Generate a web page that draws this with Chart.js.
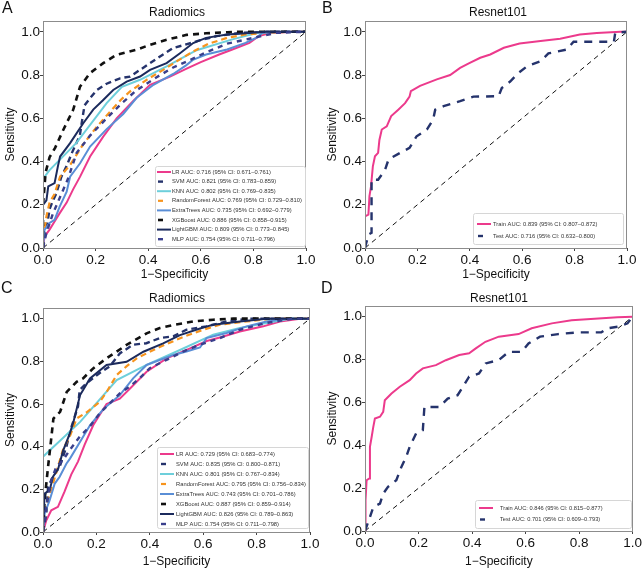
<!DOCTYPE html>
<html lang="en">
<head>
<meta charset="UTF-8">
<title>ROC curves - Radiomics vs Resnet101</title>
<script src="https://cdn.jsdelivr.net/npm/chart.js"></script>
<style>
  body { margin: 0; background: #fff; font-family: "Liberation Sans", Arial, sans-serif; }
  #fig { position: relative; width: 643px; height: 569px; overflow: hidden; }
  canvas { position: absolute; }
  .lbl { position: absolute; color: #111; white-space: nowrap; line-height: 1; }
  .letter { font-size: 16px; }
  .ttl { font-size: 12px; transform: translateX(-50%); }
</style>
</head>
<body>
<div id="fig">
  <canvas id="chartA"></canvas>
  <canvas id="chartB"></canvas>
  <canvas id="chartC"></canvas>
  <canvas id="chartD"></canvas>
  <div class="lbl letter" style="left:2px;top:0px">A</div>
  <div class="lbl letter" style="left:322px;top:0px">B</div>
  <div class="lbl letter" style="left:1px;top:280px">C</div>
  <div class="lbl letter" style="left:321px;top:280px">D</div>
  <div class="lbl ttl" style="left:177px;top:6px">Radiomics</div>
  <div class="lbl ttl" style="left:498px;top:6px">Resnet101</div>
  <div class="lbl ttl" style="left:177px;top:292px">Radiomics</div>
  <div class="lbl ttl" style="left:499px;top:292px">Resnet101</div>
</div>
<script>
// ---- data: [1-specificity, sensitivity] pairs ----
const tickVals = [0, 0.2, 0.4, 0.6, 0.8, 1.0];
const diagonal = [[0, 0], [1, 1]];

const modelNames = ['LR', 'SVM', 'KNN', 'RandomForest', 'ExtraTrees', 'XGBoost', 'LightGBM', 'MLP'];
const aucA = ['0.716', '0.821', '0.802', '0.769', '0.735', '0.886', '0.809', '0.754'];
const ciA = ['0.671–0.761', '0.783–0.859', '0.769–0.835', '0.729–0.810', '0.692–0.779', '0.858–0.915', '0.773–0.845', '0.711–0.796'];
const aucC = ['0.729', '0.835', '0.801', '0.795', '0.743', '0.887', '0.826', '0.754'];
const ciC = ['0.683–0.774', '0.800–0.871', '0.767–0.834', '0.756–0.834', '0.701–0.786', '0.859–0.914', '0.789–0.863', '0.711–0.798'];

const cohortNames = ['Train', 'Test'];
const aucB = ['0.839', '0.716'];
const ciB = ['0.807–0.872', '0.632–0.800'];
const aucD = ['0.846', '0.701'];
const ciD = ['0.815–0.877', '0.609–0.793'];

// panel A (radiomics, first cohort)
const aLR = [[0,0],[0.006,0.054],[0.025,0.085],[0.044,0.123],[0.063,0.16],[0.09,0.21],[0.114,0.27],[0.141,0.33],[0.179,0.423],[0.229,0.515],[0.28,0.6],[0.343,0.68],[0.407,0.755],[0.483,0.793],[0.546,0.83],[0.6,0.86],[0.67,0.895],[0.72,0.918],[0.785,0.949],[0.82,0.98],[0.87,0.995],[0.95,1],[1,1]];
const aSVM = [[0,0],[0.005,0.06],[0.013,0.085],[0.025,0.18],[0.038,0.22],[0.05,0.25],[0.07,0.33],[0.09,0.38],[0.11,0.44],[0.14,0.52],[0.15,0.6],[0.158,0.66],[0.179,0.693],[0.204,0.73],[0.242,0.76],[0.293,0.785],[0.331,0.793],[0.369,0.824],[0.407,0.855],[0.445,0.886],[0.495,0.925],[0.54,0.94],[0.595,0.96],[0.66,0.98],[0.75,0.995],[0.85,1],[1,1]];
const aKNN = [[0,0],[0,0.32],[0.025,0.36],[0.127,0.486],[0.242,0.67],[0.3,0.745],[0.369,0.778],[0.47,0.84],[0.584,0.915],[0.72,0.965],[0.82,0.997],[1,1]];
const aRF = [[0,0],[0,0.04],[0.013,0.146],[0.025,0.21],[0.044,0.25],[0.065,0.33],[0.103,0.384],[0.153,0.48],[0.204,0.56],[0.24,0.61],[0.267,0.647],[0.3,0.69],[0.331,0.724],[0.394,0.778],[0.457,0.824],[0.508,0.863],[0.571,0.909],[0.63,0.945],[0.7,0.972],[0.77,0.988],[0.85,0.995],[0.92,1],[1,1]];
const aET = [[0,0],[0.006,0.085],[0.025,0.116],[0.044,0.13],[0.063,0.19],[0.09,0.26],[0.103,0.33],[0.141,0.392],[0.179,0.469],[0.242,0.55],[0.305,0.62],[0.356,0.695],[0.42,0.755],[0.495,0.805],[0.544,0.845],[0.57,0.87],[0.62,0.895],[0.7,0.918],[0.77,0.949],[0.81,0.972],[0.835,0.995],[0.91,1],[1,1]];
const aXGB = [[0,0],[0,0.2],[0.01,0.35],[0.025,0.42],[0.046,0.463],[0.077,0.546],[0.115,0.64],[0.141,0.747],[0.179,0.809],[0.229,0.855],[0.28,0.894],[0.356,0.917],[0.407,0.94],[0.47,0.963],[0.546,0.986],[0.62,0.993],[0.7,0.998],[0.75,1],[1,1]];
const aLGBM = [[0,0],[0,0.2],[0.013,0.22],[0.02,0.285],[0.044,0.3],[0.057,0.38],[0.065,0.423],[0.103,0.485],[0.153,0.577],[0.191,0.64],[0.229,0.685],[0.267,0.731],[0.318,0.77],[0.369,0.793],[0.407,0.824],[0.47,0.855],[0.521,0.901],[0.571,0.948],[0.62,0.972],[0.7,0.988],[0.785,0.995],[0.85,1],[1,1]];
const aMLP = [[0,0],[0.013,0.07],[0.038,0.16],[0.07,0.25],[0.095,0.32],[0.128,0.44],[0.179,0.52],[0.242,0.6],[0.3,0.67],[0.356,0.73],[0.432,0.79],[0.495,0.835],[0.56,0.87],[0.62,0.905],[0.7,0.945],[0.8,0.972],[0.886,0.995],[1,1]];

// panel B (resnet101, first cohort)
const bTrain = [[0,0],[0,0.146],[0.013,0.154],[0.017,0.24],[0.023,0.285],[0.03,0.378],[0.038,0.424],[0.05,0.44],[0.055,0.5],[0.064,0.548],[0.083,0.563],[0.1,0.61],[0.127,0.64],[0.153,0.67],[0.17,0.7],[0.175,0.725],[0.21,0.75],[0.274,0.78],[0.325,0.8],[0.363,0.833],[0.4,0.856],[0.44,0.88],[0.478,0.895],[0.53,0.926],[0.59,0.946],[0.67,0.957],[0.745,0.968],[0.82,0.988],[0.885,0.995],[0.975,1],[1,1]];
const bTest = [[0,0],[0.013,0.062],[0.025,0.07],[0.025,0.316],[0.05,0.316],[0.076,0.36],[0.09,0.41],[0.134,0.44],[0.17,0.463],[0.197,0.517],[0.236,0.548],[0.26,0.594],[0.268,0.64],[0.3,0.656],[0.363,0.679],[0.414,0.7],[0.51,0.702],[0.522,0.74],[0.554,0.77],[0.586,0.81],[0.618,0.84],[0.67,0.864],[0.7,0.9],[0.77,0.918],[0.796,0.954],[0.95,0.954],[0.955,0.995],[1,1]];

// panel C (radiomics, second cohort)
const cLR = [[0,0],[0.0125,0.055],[0.031,0.102],[0.056,0.118],[0.081,0.19],[0.106,0.27],[0.131,0.33],[0.156,0.41],[0.188,0.5],[0.2125,0.55],[0.238,0.6],[0.2875,0.625],[0.326,0.673],[0.388,0.751],[0.463,0.814],[0.551,0.861],[0.613,0.895],[0.6625,0.912],[0.7375,0.94],[0.825,0.964],[0.8875,0.987],[0.9625,1],[1,1]];
const cSVM = [[0,0],[0.0125,0.086],[0.019,0.21],[0.0375,0.26],[0.0625,0.306],[0.0875,0.4],[0.106,0.49],[0.131,0.588],[0.1375,0.666],[0.1625,0.697],[0.2125,0.745],[0.25,0.776],[0.2875,0.837],[0.3375,0.878],[0.3875,0.885],[0.4375,0.909],[0.4875,0.917],[0.5375,0.948],[0.6125,0.964],[0.6875,0.987],[0.775,1],[1,1]];
const cKNN = [[0,0],[0,0.353],[0.139,0.516],[0.276,0.712],[0.388,0.783],[0.513,0.853],[0.6375,0.925],[0.7375,0.956],[0.8375,0.98],[0.925,1],[1,1]];
const cRF = [[0,0],[0.006,0.086],[0.019,0.149],[0.0375,0.227],[0.056,0.306],[0.076,0.391],[0.1,0.447],[0.126,0.532],[0.1625,0.56],[0.213,0.61],[0.24,0.66],[0.276,0.736],[0.3125,0.776],[0.351,0.814],[0.426,0.861],[0.526,0.915],[0.6,0.948],[0.6625,0.972],[0.7625,0.987],[0.8625,1],[1,1]];
const cET = [[0,0],[0.006,0.086],[0.025,0.149],[0.044,0.227],[0.0625,0.259],[0.0875,0.32],[0.101,0.344],[0.176,0.5],[0.225,0.575],[0.288,0.642],[0.3375,0.72],[0.388,0.783],[0.488,0.83],[0.5375,0.846],[0.588,0.865],[0.6125,0.909],[0.6875,0.933],[0.7625,0.964],[0.8375,0.987],[0.9125,1],[1,1]];
const cXGB = [[0,0],[0.006,0.15],[0.019,0.306],[0.031,0.44],[0.039,0.532],[0.064,0.563],[0.089,0.657],[0.126,0.704],[0.15,0.72],[0.188,0.767],[0.238,0.814],[0.275,0.845],[0.313,0.877],[0.388,0.931],[0.4375,0.956],[0.488,0.97],[0.5625,0.987],[0.6375,0.995],[0.7125,1],[1,1]];
const cLGBM = [[0,0],[0.006,0.18],[0.025,0.196],[0.0375,0.259],[0.057,0.297],[0.075,0.38],[0.1,0.46],[0.114,0.516],[0.139,0.642],[0.176,0.72],[0.238,0.783],[0.313,0.798],[0.376,0.845],[0.45,0.884],[0.513,0.923],[0.588,0.954],[0.6375,0.972],[0.7375,0.987],[0.8375,1],[1,1]];
const cMLP = [[0,0],[0.0125,0.118],[0.031,0.243],[0.05,0.306],[0.075,0.337],[0.1,0.384],[0.1375,0.447],[0.175,0.494],[0.2125,0.556],[0.25,0.603],[0.2875,0.65],[0.325,0.682],[0.3625,0.721],[0.4,0.768],[0.4625,0.807],[0.525,0.846],[0.5875,0.878],[0.6625,0.909],[0.7375,0.948],[0.8375,0.98],[0.9375,1],[1,1]];

// panel D (resnet101, second cohort)
const dTrain = [[0,0],[0.002,0.143],[0.006,0.237],[0.016,0.245],[0.0185,0.393],[0.025,0.44],[0.031,0.486],[0.037,0.525],[0.056,0.533],[0.068,0.556],[0.074,0.61],[0.099,0.642],[0.13,0.673],[0.167,0.704],[0.191,0.735],[0.216,0.759],[0.265,0.774],[0.302,0.797],[0.352,0.821],[0.389,0.829],[0.414,0.852],[0.45,0.883],[0.5,0.907],[0.574,0.919],[0.623,0.946],[0.698,0.969],[0.772,0.984],[0.858,0.991],[0.944,0.997],[1,1]];
const dTest = [[0,0],[0.0185,0.065],[0.031,0.112],[0.056,0.128],[0.068,0.174],[0.086,0.206],[0.117,0.237],[0.136,0.299],[0.154,0.346],[0.167,0.393],[0.191,0.455],[0.216,0.47],[0.222,0.579],[0.278,0.579],[0.309,0.618],[0.346,0.634],[0.37,0.681],[0.389,0.72],[0.426,0.735],[0.451,0.782],[0.5,0.798],[0.537,0.836],[0.586,0.836],[0.611,0.875],[0.654,0.907],[0.722,0.919],[0.796,0.927],[0.883,0.927],[0.907,0.946],[0.944,0.953],[0.981,0.969],[1,1]];

// ---- styles ----
const modelStyles = [
  { color: '#ec3a8c', dash: [], width: 2 },          // LR
  { color: '#25336c', dash: [6, 4], width: 2.4 },    // SVM
  { color: '#6dcfdb', dash: [], width: 2 },          // KNN
  { color: '#f7941d', dash: [6, 4], width: 2.2 },    // RandomForest
  { color: '#5a8ed6', dash: [], width: 2 },          // ExtraTrees
  { color: '#111111', dash: [6, 5], width: 2.6 },    // XGBoost
  { color: '#1b2a5c', dash: [], width: 2 },          // LightGBM
  { color: '#3a3f8c', dash: [5, 5], width: 2.4 }     // MLP
];
const cohortStyles = [
  { color: '#ec3a8c', dash: [], width: 2 },
  { color: '#25336c', dash: [8, 7], width: 2.4 }
];

const toXY = arr => arr.map(p => ({ x: p[0], y: p[1] }));

const framePlugin = {
  id: 'frame',
  afterDatasetsDraw(chart) {
    const { ctx, chartArea: a } = chart;
    ctx.save();
    ctx.strokeStyle = '#8c8c8c';
    ctx.lineWidth = 1;
    ctx.strokeRect(Math.round(a.left) + 0.5, Math.round(a.top) + 0.5,
      Math.round(a.right - a.left) - 1, Math.round(a.bottom - a.top));
    ctx.restore();
  }
};

// small legend box drawn inside the plot (lower right)
const boxLegend = {
  id: 'boxLegend',
  afterDraw(chart, args, o) {
    const ctx = chart.ctx;
    const ox = o.offX, oy = o.offY;
    ctx.save();
    ctx.fillStyle = 'rgba(255,255,255,0.92)';
    ctx.strokeStyle = '#d6d6d6';
    ctx.lineWidth = 1;
    ctx.beginPath();
    ctx.roundRect(o.x - ox + 0.5, o.y - oy + 0.5, o.w, o.h, 2);
    ctx.fill();
    ctx.stroke();
    ctx.font = o.font + 'px "Liberation Sans", Arial, sans-serif';
    ctx.textBaseline = 'middle';
    let i = 0;
    chart.data.datasets.forEach(ds => {
      if (!ds.legendText) return;
      const y = o.y0 - oy + i * o.rowH;
      const sx = o.sx - ox;
      ctx.strokeStyle = ds.borderColor;
      ctx.lineWidth = ds.borderWidth;
      ctx.setLineDash([]);
      ctx.beginPath();
      if (ds.borderDash && ds.borderDash.length) {
        ctx.moveTo(sx + 1, y); ctx.lineTo(sx + 6, y);
      } else {
        ctx.moveTo(sx, y); ctx.lineTo(sx + 14, y);
      }
      ctx.stroke();
      ctx.fillStyle = '#333';
      ctx.fillText(ds.legendText, sx + o.gap, y);
      i++;
    });
    ctx.restore();
  }
};

function makePanel(id, box, area, series, leg) {
  const cv = document.getElementById(id);
  cv.width = box.w; cv.height = box.h;
  cv.style.left = box.left + 'px'; cv.style.top = box.top + 'px';
  cv.style.width = box.w + 'px'; cv.style.height = box.h + 'px';

  const datasets = [{
    data: toXY(diagonal), borderColor: '#111', borderWidth: 1, borderDash: [5, 4],
    showLine: true, pointRadius: 0, order: 0
  }];
  series.forEach((s, i) => {
    datasets.push({
      data: toXY(s.points), legendText: s.label,
      borderColor: s.style.color, borderWidth: s.style.width, borderDash: s.style.dash,
      showLine: true, pointRadius: 0, tension: 0, order: -(i + 1)
    });
  });

  leg.offX = box.left; leg.offY = box.top;

  const axisCommon = {
    type: 'linear',
    afterBuildTicks: s => { s.ticks = tickVals.map(v => ({ value: v })); },
    ticks: {
      callback: v => Number(v).toFixed(1), color: '#111', autoSkip: false, maxRotation: 0,
      font: { size: 13.5, family: '"Liberation Sans", Arial, sans-serif' }
    },
    grid: { drawOnChartArea: false, tickLength: 3, color: '#444' },
    border: { display: false }
  };

  new Chart(cv, {
    type: 'scatter',
    data: { datasets },
    options: {
      responsive: false,
      animation: false,
      layout: { padding: { left: 0, top: area.t - box.top, right: box.left + box.w - area.r, bottom: 0 } },
      plugins: { legend: { display: false }, tooltip: { enabled: false }, boxLegend: leg },
      scales: {
        x: Object.assign({}, axisCommon, {
          min: 0, max: 1,
          afterFit: s => { s.height = box.top + box.h - area.b; },
          ticks: Object.assign({}, axisCommon.ticks, { padding: 1 }),
          title: { display: true, text: '1−Specificity', color: '#111',
                   font: { size: 12, family: '"Liberation Sans", Arial, sans-serif' }, padding: { top: 0, bottom: 0 } }
        }),
        y: Object.assign({}, axisCommon, {
          min: 0, max: 1.05,
          afterFit: s => { s.width = area.l - box.left; },
          ticks: Object.assign({}, axisCommon.ticks, { padding: 0 }),
          title: { display: true, text: 'Sensitivity', color: '#111',
                   font: { size: 12, family: '"Liberation Sans", Arial, sans-serif' }, padding: { top: 3, bottom: 0 } }
        })
      }
    },
    plugins: [framePlugin, boxLegend]
  });
}

const radA = [aLR, aSVM, aKNN, aRF, aET, aXGB, aLGBM, aMLP];
const radC = [cLR, cSVM, cKNN, cRF, cET, cXGB, cLGBM, cMLP];
const label = (n, auc, ci) => n + ' AUC: ' + auc + ' (95% CI: ' + ci + ')';

makePanel('chartA', { left: 0, top: 0, w: 320, h: 282 }, { l: 43, r: 306, t: 21, b: 248 },
  radA.map((pts, i) => ({ points: pts, style: modelStyles[i], label: label(modelNames[i], aucA[i], ciA[i]) })),
  { x: 155, y: 166, w: 150, h: 80, sx: 157, y0: 172, rowH: 9.6, gap: 15, font: 5.8 });

makePanel('chartB', { left: 322, top: 0, w: 321, h: 282 }, { l: 365, r: 627, t: 21, b: 248 },
  [bTrain, bTest].map((pts, i) => ({ points: pts, style: cohortStyles[i], label: label(cohortNames[i], aucB[i], ciB[i]) })),
  { x: 473, y: 213, w: 150, h: 31, sx: 477, y0: 224, rowH: 12, gap: 16, font: 5.8 });

makePanel('chartC', { left: 0, top: 284, w: 322, h: 285 }, { l: 43, r: 310, t: 308, b: 532 },
  radC.map((pts, i) => ({ points: pts, style: modelStyles[i], label: label(modelNames[i], aucC[i], ciC[i]) })),
  { x: 157, y: 447, w: 151, h: 81, sx: 160, y0: 454, rowH: 10, gap: 16, font: 5.8 });

makePanel('chartD', { left: 322, top: 284, w: 321, h: 285 }, { l: 365, r: 635, t: 306, b: 531 },
  [dTrain, dTest].map((pts, i) => ({ points: pts, style: cohortStyles[i], label: label(cohortNames[i], aucD[i], ciD[i]) })),
  { x: 475, y: 500, w: 156, h: 28, sx: 479, y0: 508, rowH: 11.5, gap: 21, font: 5.7 });
</script>
</body>
</html>
